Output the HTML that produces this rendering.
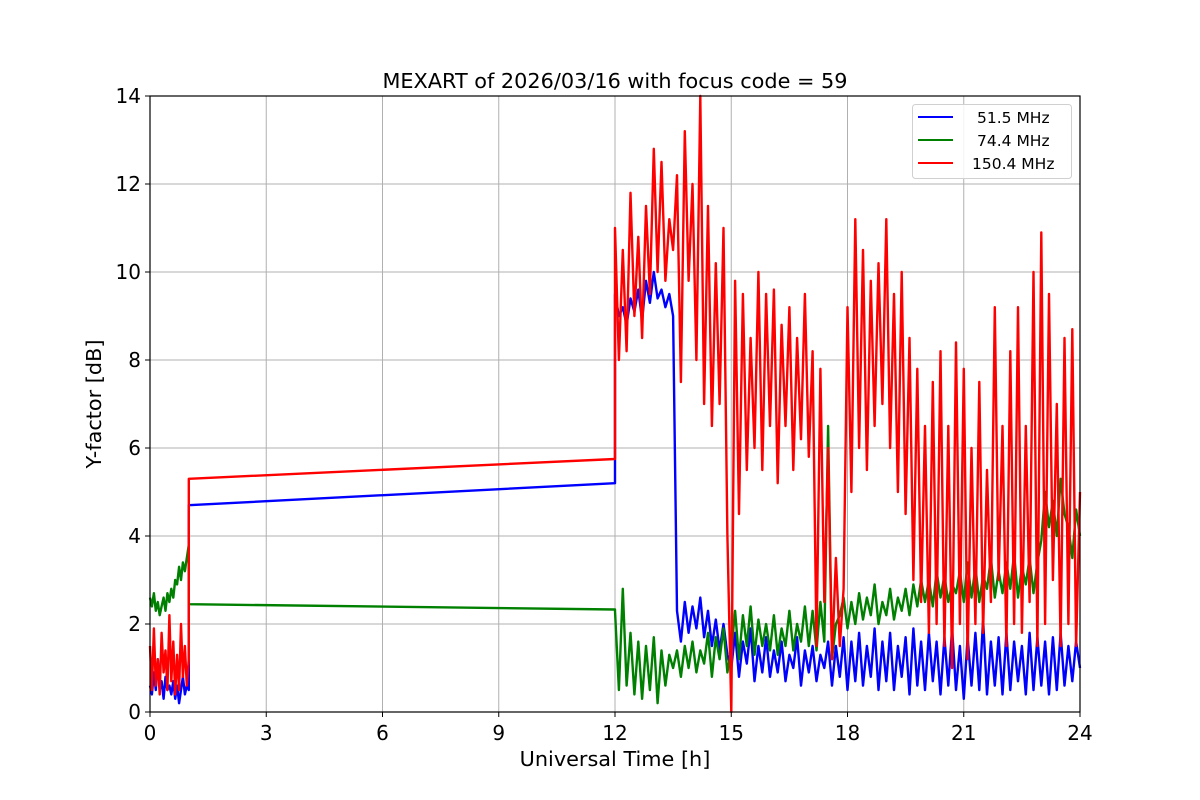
<!DOCTYPE html>
<html><head><meta charset="utf-8"><style>
body{margin:0;background:#fff}
svg{display:block;font-family:"DejaVu Sans","Liberation Sans",sans-serif}
</style></head><body>
<svg id="chart" width="1200" height="800"></svg>
<script>
// ---- data ----
const xTicks=[0,3,6,9,12,15,18,21,24];
const yTicks=[0,2,4,6,8,10,12,14];
const seriesNames=["51.5 MHz","74.4 MHz","150.4 MHz"];
const earlyStart=0, earlyStep=0.05;
const blueEarly=[0.6,0.4,0.9,0.5,1.2,0.5,0.7,0.3,0.8,0.5,0.6,0.4,0.7,0.3,0.6,0.2,0.5,0.8,0.4,0.6,0.5];
const greenEarly=[2.6,2.4,2.7,2.3,2.5,2.2,2.4,2.6,2.3,2.7,2.5,2.8,2.6,3.0,2.9,3.3,3.0,3.4,3.2,3.5,3.8];
const redEarly=[1.5,0.5,1.9,0.6,1.2,0.4,1.8,0.9,1.4,0.5,2.2,0.7,1.6,0.4,1.3,0.5,2.0,0.8,1.5,0.6,1.2];
const gapTimes=[1,1,12,12];
const blueGap=[0.5,4.7,5.2,9.5];
const greenGap=[3.8,2.45,2.33,2.3];
const redGap=[1.2,5.3,5.75,11];
const lateStart=12, lateStep=0.1;
const blueLate=[9.5,9,9.2,8.8,9.4,9.1,9.6,8.9,9.8,9.3,10,9.4,9.6,9.2,9.5,9.0,
2.3,1.6,2.5,1.8,2.4,1.9,2.6,1.7,2.3,1.5,2.1,1.4,2.0,1.3,
1.0,1.8,0.8,1.6,1.1,1.9,0.7,1.5,0.9,1.7,0.8,1.4,0.9,1.6,0.7,1.3,1.0,1.7,0.6,1.4,
0.9,1.5,0.7,1.3,1.0,1.6,0.6,1.5,0.8,1.7,0.5,1.6,0.7,1.8,0.6,1.5,0.8,1.9,0.5,1.6,
0.7,1.8,0.5,1.5,0.8,1.7,0.4,1.9,0.6,1.6,0.5,1.8,0.7,1.6,0.4,1.7,0.6,1.9,0.5,1.5,
0.3,1.7,0.6,1.8,0.5,2.1,0.4,1.6,0.6,1.7,0.4,1.8,0.5,1.6,0.7,1.5,0.4,1.8,0.5,1.7,
0.6,1.6,0.4,1.7,0.5,1.8,0.6,1.5,0.7,1.6,1.0];
const greenLate=[2.3,0.5,2.8,0.6,1.8,0.4,1.6,0.3,1.5,0.5,1.7,0.2,1.4,0.6,1.3,
1.0,1.4,0.8,1.5,1.0,1.6,0.9,1.4,1.1,1.8,0.8,1.7,1.2,1.9,0.9,
1.4,2.3,1.2,2.2,1.5,2.4,1.3,2.1,1.5,2.0,1.4,2.2,1.3,1.9,1.5,2.3,1.4,2.0,1.6,2.4,1.5,2.3,1.4,2.5,1.6,
6.5,
1.2,2.0,2.2,2.6,1.9,2.5,2.0,2.7,2.1,2.6,2.2,2.9,2.0,2.5,2.2,2.8,2.1,2.6,2.3,2.8,2.2,2.9,2.4,3.0,
2.5,3.0,2.4,3.2,2.6,3.1,2.5,2.9,2.7,3.2,2.5,3.4,2.6,3.3,2.5,3.1,2.8,3.5,2.6,3.2,2.7,3.4,2.8,3.6,2.6,3.3,2.9,3.5,2.7,3.4,3.9,5.0,4.2,4.8,4.0,5.3,4.5,4.2,3.5,4.6,4.0];
const redLate=[11,8,10.5,8.2,11.8,9,10.8,8.5,11.5,9.5,
12.8,10,12.5,9.8,11.2,10.5,12.2,7.5,13.2,9.8,
12,8,14,7,11.5,6.5,10.2,7,11,4,
0,9.8,4.5,9.5,5.5,8.5,6,10,5.5,9.5,
6.5,9.6,5.2,8.8,6.5,9.2,5.5,8.5,6.2,9.5,
5.8,8.2,1.5,7.8,2.5,6,1.2,3.5,1.5,2.8,
9.2,5,11.2,6,10.5,5.5,9.8,6.5,10.2,7,
11.2,6,9.5,5,10,4.5,8.5,3,7.8,2.5,
6.5,1.8,7.5,2,8.2,1.5,6.5,1,8.4,2,
7.8,1.2,6,2,7.5,1.8,5.5,2.5,9.2,3,
6.5,1.5,8.2,2,9.2,1.8,6.5,2.5,10,1.5,
10.9,2,9.5,3,7,1.5,8.5,2,8.7,1.5,5];

// ---- layout ----
const L=150,R=1080,T=96,B=712;
const sx=t=>L+(t/24)*(R-L);
const sy=v=>B-(v/14)*(B-T);
const NS="http://www.w3.org/2000/svg";
const svg=document.getElementById("chart");
function mk(tag,attrs,parent){const e=document.createElementNS(NS,tag);for(const k in attrs)e.setAttribute(k,attrs[k]);(parent||svg).appendChild(e);return e;}

const grid=mk("g",{});


xTicks.forEach(t=>{mk("line",{x1:sx(t),x2:sx(t),y1:T,y2:B,stroke:"#b0b0b0","stroke-width":1},grid);});
yTicks.forEach(v=>{mk("line",{x1:L,x2:R,y1:sy(v),y2:sy(v),stroke:"#b0b0b0","stroke-width":1},grid);});

function pts(series){
  const [early,gap,late]=series;let p=[];
  early.forEach((v,i)=>p.push([earlyStart+i*earlyStep,v]));
  gap.forEach((v,i)=>p.push([gapTimes[i],v]));
  late.forEach((v,i)=>p.push([lateStart+i*lateStep,v]));
  return p.map(([t,v])=>sx(t).toFixed(1)+","+sy(v).toFixed(1)).join(" ");
}
const plot=mk("g",{});


const colors=["#0000ff","#008000","#ff0000"];
const data=[[blueEarly,blueGap,blueLate],[greenEarly,greenGap,greenLate],[redEarly,redGap,redLate]];
const ids=["series-51-5-mhz","series-74-4-mhz","series-150-4-mhz"];
data.forEach((s,i)=>{
  const pl=mk("polyline",{points:pts(s),fill:"none",stroke:colors[i],"stroke-width":2.4,"stroke-linejoin":"round"},plot);
  
  
});

const frame=mk("rect",{x:L,y:T,width:R-L,height:B-T,fill:"none",stroke:"#000","stroke-width":1.2});



xTicks.forEach(t=>{
  mk("line",{x1:sx(t),x2:sx(t),y1:B,y2:B+5,stroke:"#000"});
  const tx=mk("text",{x:sx(t),y:B+28,"text-anchor":"middle","font-size":20});
  tx.textContent=t;
  
  
});
yTicks.forEach(v=>{
  mk("line",{x1:L-5,x2:L,y1:sy(v),y2:sy(v),stroke:"#000"});
  const tx=mk("text",{x:L-9,y:sy(v)+7,"text-anchor":"end","font-size":20});
  tx.textContent=v;
  
  
});
</script>
<svg style="position:absolute;left:0;top:0" width="1200" height="800">
<text x="615" y="88" text-anchor="middle" font-size="20.8">MEXART of 2026/03/16 with focus code = 59</text>
<text x="615" y="766" text-anchor="middle" font-size="20.8">Universal Time [h]</text>
<text transform="translate(101,404) rotate(-90)" text-anchor="middle" font-size="20.8">Y-factor [dB]</text>
<g>
<rect x="912.5" y="104.5" width="159" height="74" rx="3" fill="#fff" fill-opacity="0.85" stroke="#d0d0d0"/>
<g><line x1="918" x2="953" y1="117" y2="117" stroke="#0000ff" stroke-width="2"/><text x="977" y="123" font-size="15.5">51.5 MHz</text></g>
<g><line x1="918" x2="953" y1="140" y2="140" stroke="#008000" stroke-width="2"/><text x="977" y="146" font-size="15.5">74.4 MHz</text></g>
<g><line x1="918" x2="953" y1="163" y2="163" stroke="#ff0000" stroke-width="2"/><text x="972" y="169" font-size="15.5">150.4 MHz</text></g>
</g>
</svg>
</body></html>
